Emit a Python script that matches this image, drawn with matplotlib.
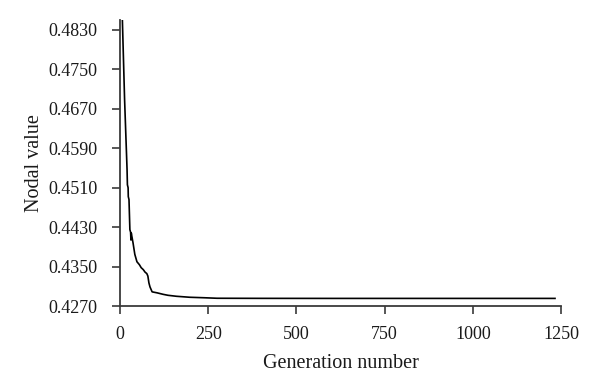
import matplotlib
matplotlib.use("Agg")
import matplotlib.pyplot as plt

# Data
generation = [6.5, 13, 20, 21, 23, 23.5, 25.5, 28, 30, 31, 32, 37, 42, 48, 55, 60, 66, 71, 76, 79,
              82, 85, 91, 105, 122, 136, 160, 198, 240, 275, 400, 600, 800, 1000, 1233]
nodal_value = [0.4856, 0.4689, 0.4547, 0.4516, 0.4510, 0.4492, 0.4486, 0.4425, 0.4420,
               0.4404, 0.4418, 0.4398, 0.4375, 0.4360, 0.4354, 0.4348, 0.4344, 0.4339, 0.4336,
               0.4331, 0.4317, 0.4309, 0.4299, 0.4297, 0.4294, 0.4292, 0.4290, 0.4288,
               0.4287, 0.4286, 0.42858, 0.42857, 0.42857, 0.42857, 0.42857]

x_ticks = [0, 250, 500, 750, 1000, 1250]
y_ticks = [0.4270, 0.4350, 0.4430, 0.4510, 0.4590, 0.4670, 0.4750, 0.4830]

plt.rcParams['font.family'] = ['Liberation Serif', 'DejaVu Serif']

fig = plt.figure(figsize=(6.0, 3.92), dpi=100)
ax = fig.add_axes([0.2, 0.219, 0.735, 0.730])

ax.plot(generation, nodal_value, color='black', linewidth=1.2)

ax.set_xlim(0, 1250)
ax.set_ylim(0.4270, 0.4850)
ax.set_xticks(x_ticks)
ax.set_xticklabels([str(t) for t in x_ticks])
ax.set_yticks(y_ticks)
ax.set_yticklabels([f"{t:.4f}" for t in y_ticks])

for side in ['top', 'right']:
    ax.spines[side].set_visible(False)
for side in ['left', 'bottom']:
    ax.spines[side].set_color('#3a3a3a')
    ax.spines[side].set_linewidth(1.3)

ax.tick_params(axis='both', direction='out', length=6, width=1.2, color='#3a3a3a',
               labelsize=13, labelcolor='#1a1a1a')
ax.tick_params(axis='y', pad=10)
ax.tick_params(axis='x', pad=8)

ax.set_xlabel('Generation number', fontsize=14.5, color='#1a1a1a', labelpad=8)
ax.set_ylabel('Nodal value', fontsize=14.5, color='#1a1a1a', labelpad=3)

fig.savefig('out.png', dpi=100)
